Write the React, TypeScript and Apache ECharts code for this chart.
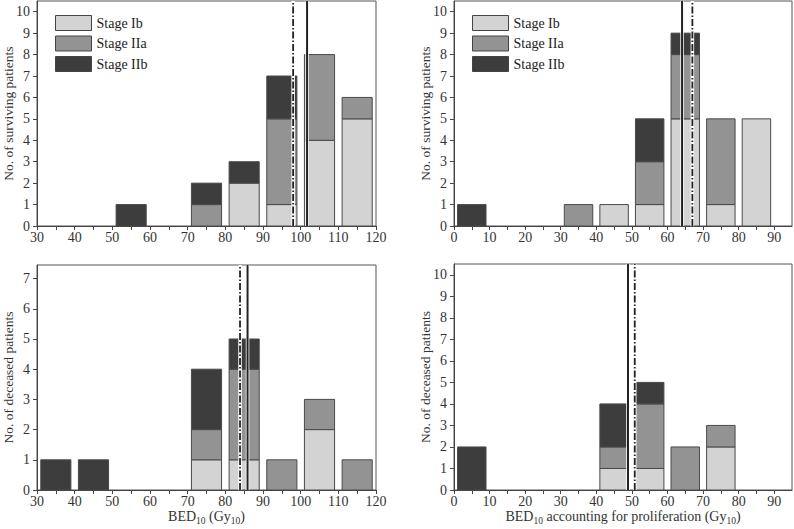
import React, { useEffect, useRef } from "react";
import * as echarts from "echarts";

const stages = ["Stage Ib", "Stage IIa", "Stage IIb"];
const stageColors = ["#d3d3d3", "#939393", "#3d3d3d"];

const binsBed = [35, 45, 55, 65, 75, 85, 95, 105, 115];
const binsPro = [5, 15, 25, 35, 45, 55, 65, 75, 85];

const survBedIb = [0, 0, 0, 0, 0, 2, 1, 4, 5];
const survBedIIa = [0, 0, 0, 0, 1, 0, 4, 4, 1];
const survBedIIb = [0, 0, 1, 0, 1, 1, 2, 0, 0];

const survProIb = [0, 0, 0, 0, 1, 1, 5, 1, 5];
const survProIIa = [0, 0, 0, 1, 0, 2, 3, 4, 0];
const survProIIb = [1, 0, 0, 0, 0, 2, 1, 0, 0];

const decBedIb = [0, 0, 0, 0, 1, 1, 0, 2, 0];
const decBedIIa = [0, 0, 0, 0, 1, 3, 1, 1, 1];
const decBedIIb = [1, 1, 0, 0, 2, 1, 0, 0, 0];

const decProIb = [0, 0, 0, 0, 1, 1, 0, 2, 0];
const decProIIa = [0, 0, 0, 0, 1, 3, 2, 1, 0];
const decProIIb = [2, 0, 0, 0, 2, 1, 0, 0, 0];

// [solid line, dash-dot line]
const survBedLines = [101.7, 98];
const survProLines = [64.1, 67];
const decBedLines = [85.9, 83.9];
const decProLines = [48.9, 50.8];

const bedTicks = [30, 40, 50, 60, 70, 80, 90, 100, 110, 120];
const proTicks = [0, 10, 20, 30, 40, 50, 60, 70, 80, 90];
const yTicks10 = [0, 1, 2, 3, 4, 5, 6, 7, 8, 9, 10];
const yTicks7 = [0, 1, 2, 3, 4, 5, 6, 7];

const FONT = "Liberation Serif";
const HALF_WIDTH = 4;

function halfSteps(ticks: number[]) {
  const out: number[] = [];
  for (let i = 0; i < ticks.length; i++) {
    out.push(ticks[i]);
    if (i < ticks.length - 1) out.push((ticks[i] + ticks[i + 1]) / 2);
  }
  return out;
}

export default function App() {
  const ref = useRef<HTMLDivElement>(null);

  useEffect(() => {
    if (!ref.current) return;
    const chart = echarts.init(ref.current, undefined, { renderer: "svg" });

    const panels = [
      { bins: binsBed, stacks: [survBedIb, survBedIIa, survBedIIb], lines: survBedLines, yMax: 10.5 },
      { bins: binsPro, stacks: [survProIb, survProIIa, survProIIb], lines: survProLines, yMax: 10.5 },
      { bins: binsBed, stacks: [decBedIb, decBedIIa, decBedIIb], lines: decBedLines, yMax: 7.45 },
      { bins: binsPro, stacks: [decProIb, decProIIa, decProIIb], lines: decProLines, yMax: 10.5 },
    ];

    const grids = [
      { left: 37, top: 1, width: 339, height: 225 },
      { left: 454, top: 1, width: 338, height: 225 },
      { left: 37, top: 265, width: 339, height: 225 },
      { left: 454, top: 264, width: 338, height: 226 },
    ].map((g) => ({
      ...g,
      show: true,
      borderColor: "#555",
      borderWidth: 1,
      backgroundColor: "#fff",
      containLabel: false,
      outerBoundsMode: "none",
    }));

    const subRich = {
      n: { fontFamily: FONT, fontSize: 14, color: "#333" },
      s: { fontFamily: FONT, fontSize: 9.5, color: "#333", verticalAlign: "bottom", padding: [0, 0, -3, 0] },
    };

    const xAxes = panels.map((p, i) => {
      const isBed = i % 2 === 0;
      const ticks = isBed ? bedTicks : proTicks;
      return {
        type: "value",
        gridIndex: i,
        min: isBed ? 30 : 0,
        max: isBed ? 120 : 95,
        interval: 10,
        axisLine: { lineStyle: { color: "#444", width: 1 } },
        axisTick: { customValues: halfSteps(ticks), length: 4, lineStyle: { color: "#444" } },
        axisLabel: { customValues: ticks, fontFamily: FONT, fontSize: 14, color: "#333", margin: 4 },
        splitLine: { show: false },
        name:
          i === 2
            ? "{n|BED}{s|10}{n| (Gy}{s|10}{n|)}"
            : i === 3
            ? "{n|BED}{s|10}{n| accounting for proliferation (Gy}{s|10}{n|)}"
            : "",
        nameLocation: "middle",
        nameGap: 19,
        nameMoveOverlap: false,
        nameTextStyle: { rich: subRich },
      };
    });

    const yAxes = panels.map((p, i) => {
      const ticks = p.yMax > 8 ? yTicks10 : yTicks7;
      return {
        type: "value",
        gridIndex: i,
        min: 0,
        max: p.yMax,
        interval: 1,
        axisLine: { show: true, lineStyle: { color: "#444", width: 1 } },
        axisTick: { show: true, customValues: ticks, length: 4, lineStyle: { color: "#444" } },
        axisLabel: { customValues: ticks, fontFamily: FONT, fontSize: 14, color: "#333", margin: 7 },
        splitLine: { show: false },
        name: i < 2 ? "No. of surviving patients" : "No. of deceased patients",
        nameLocation: "middle",
        nameGap: 22,
        nameMoveOverlap: false,
        nameTextStyle: { fontFamily: FONT, fontSize: 13.5, color: "#333" },
      };
    });

    const series: any[] = [];
    panels.forEach((p, pi) => {
      const cum = p.bins.map(() => 0);
      p.stacks.forEach((vals, si) => {
        const data: number[][] = [];
        vals.forEach((v, bi) => {
          if (v > 0) data.push([p.bins[bi], cum[bi], cum[bi] + v]);
          cum[bi] += v;
        });
        const color = stageColors[si];
        series.push({
          type: "custom",
          name: stages[si],
          xAxisIndex: pi,
          yAxisIndex: pi,
          itemStyle: { color },
          encode: { x: 0, y: 2 },
          data,
          z: 2,
          renderItem: (params: any, api: any) => {
            const c = api.value(0);
            const b = api.value(1);
            const t = api.value(2);
            const p1 = api.coord([c - HALF_WIDTH, t]);
            const p2 = api.coord([c + HALF_WIDTH, b]);
            return {
              type: "rect",
              shape: { x: p1[0], y: p1[1], width: p2[0] - p1[0], height: p2[1] - p1[1] },
              style: { fill: color, stroke: "#4a4a4a", lineWidth: 1 },
            };
          },
        });
      });
      const [solid, dashdot] = p.lines;
      [solid, dashdot].forEach((x, li) => {
        series.push({
          type: "line",
          xAxisIndex: pi,
          yAxisIndex: pi,
          data: [[x, 0], [x, p.yMax]],
          symbol: "none",
          silent: true,
          z: 4,
          lineStyle: { color: "#fff", width: 3.5, type: "solid" },
        });
        series.push({
          type: "line",
          xAxisIndex: pi,
          yAxisIndex: pi,
          data: [[x, 0], [x, p.yMax]],
          symbol: "none",
          silent: true,
          z: 5,
          lineStyle: li === 0
            ? { color: "#222", width: 2, type: "solid" }
            : { color: "#222", width: 1.8, type: [7, 2, 1.5, 2] },
        });
      });
    });

    const legendData = stages.map((s, i) => ({
      name: s,
      icon: "rect",
      itemStyle: { color: stageColors[i], borderColor: "#444", borderWidth: 1 },
    }));
    const legendBase = {
      orient: "vertical",
      top: 10,
      itemWidth: 36,
      itemHeight: 15,
      itemGap: 4.5,
      selectedMode: false,
      data: legendData,
      textStyle: { fontFamily: FONT, fontSize: 14, color: "#222" },
    };

    chart.setOption({
      animation: false,
      backgroundColor: "#fff",
      grid: grids,
      xAxis: xAxes,
      yAxis: yAxes,
      legend: [
        { ...legendBase, left: 50 },
        { ...legendBase, left: 467 },
      ],
      series,
    });

    return () => chart.dispose();
  }, []);

  return (
    <div
      ref={ref}
      style={{ position: "absolute", left: 0, top: 0, width: 794, height: 529 }}
    />
  );
}
